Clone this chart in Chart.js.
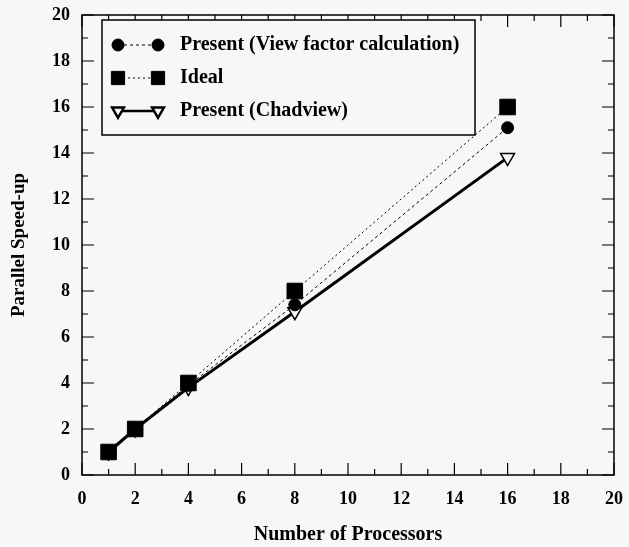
<!DOCTYPE html>
<html>
<head>
<meta charset="utf-8">
<script src="https://cdn.jsdelivr.net/npm/chart.js@4.4.1/dist/chart.umd.min.js"></script>
<style>
  html, body { margin: 0; padding: 0; background: #f7f7f7; }
  #wrap { width: 629px; height: 547px; }
</style>
</head>
<body>
<div id="wrap"><canvas id="chart" width="629" height="547"></canvas></div>
<script>
// data
const processors = [1, 2, 4, 8, 16];
const viewFactor = [1, 2, 3.9, 7.4, 15.1];
const ideal = [1, 2, 4, 8, 16];
const chadview = [1, 2, 3.8, 7.1, 13.8];
const xTicks = [0, 2, 4, 6, 8, 10, 12, 14, 16, 18, 20];
const yTicks = [0, 2, 4, 6, 8, 10, 12, 14, 16, 18, 20];

const serif = '"Liberation Serif", "DejaVu Serif", serif';
const bg = '#f7f7f7';

function pts(ys) {
    return processors.map((p, i) => ({ x: p, y: ys[i] }));
}

// frame with inward ticks, like the old plotting package
const framePlugin = {
    id: 'frame',
    afterDraw(chart) {
        const { ctx, chartArea: a, scales } = chart;
        ctx.save();
        ctx.strokeStyle = '#000';
        ctx.lineWidth = 1.5;
        ctx.strokeRect(a.left, a.top, a.right - a.left, a.bottom - a.top);
        ctx.lineWidth = 1.2;
        ctx.beginPath();
        for (let v = 0; v <= 20; v += 1) {
            const len = v % 2 === 0 ? 12 : 6;
            const x = scales.x.getPixelForValue(v);
            ctx.moveTo(x, a.bottom); ctx.lineTo(x, a.bottom - len);
            ctx.moveTo(x, a.top); ctx.lineTo(x, a.top + len);
            const y = scales.y.getPixelForValue(v);
            ctx.moveTo(a.left, y); ctx.lineTo(a.left + len, y);
            ctx.moveTo(a.right, y); ctx.lineTo(a.right - len, y);
        }
        ctx.stroke();
        ctx.restore();
    }
};

// boxed legend inside the plot, top left
const boxLegend = {
    id: 'boxLegend',
    afterDraw(chart) {
        const { ctx, chartArea: a } = chart;
        const bx = a.left + 20, by = a.top + 5, bw = 373, bh = 115;
        ctx.save();
        ctx.fillStyle = bg;
        ctx.fillRect(bx, by, bw, bh);
        ctx.strokeStyle = '#000';
        ctx.lineWidth = 1.5;
        ctx.strokeRect(bx, by, bw, bh);
        chart.data.datasets.forEach((ds, i) => {
            const y = by + 25 + i * 33;
            const x0 = bx + 16, x1 = bx + 56;
            ctx.setLineDash(ds.borderDash || []);
            ctx.lineWidth = Math.min(ds.borderWidth, 2.5);
            ctx.strokeStyle = '#000';
            ctx.beginPath();
            ctx.moveTo(x0, y); ctx.lineTo(x1, y);
            ctx.stroke();
            ctx.setLineDash([]);
            [x0, x1].forEach(x => {
                ctx.fillStyle = ds.pointBackgroundColor;
                ctx.strokeStyle = '#000';
                Chart.helpers.drawPoint(ctx, {
                    pointStyle: ds.pointStyle,
                    radius: ds.pointStyle === 'circle' ? ds.pointRadius : ds.pointRadius * 0.85,
                    rotation: ds.rotation || 0,
                    borderWidth: ds.pointBorderWidth || 1
                }, x, y);
            });
            ctx.fillStyle = '#000';
            ctx.font = 'bold 20px ' + serif;
            ctx.textBaseline = 'middle';
            ctx.fillText(ds.label, bx + 78, y);
        });
        ctx.restore();
    }
};

const chart = document.querySelector('#chart');
new Chart(chart, {
    type: 'line',
    data: {
        datasets: [
            {
                label: 'Present (View factor calculation)',
                data: pts(viewFactor),
                borderColor: '#000',
                borderWidth: 1,
                borderDash: [3, 3],
                pointStyle: 'circle',
                pointRadius: 6,
                pointBackgroundColor: '#000',
                pointBorderColor: '#000'
            },
            {
                label: 'Ideal',
                data: pts(ideal),
                borderColor: '#000',
                borderWidth: 1,
                borderDash: [2, 3],
                pointStyle: 'rect',
                pointRadius: 11,
                pointBackgroundColor: '#000',
                pointBorderColor: '#000'
            },
            {
                label: 'Present (Chadview)',
                data: pts(chadview),
                borderColor: '#000',
                borderWidth: 3,
                pointStyle: 'triangle',
                rotation: 180,
                pointRadius: 8,
                pointBorderWidth: 1.5,
                pointBackgroundColor: bg,
                pointBorderColor: '#000'
            }
        ]
    },
    options: {
        responsive: false,
        animation: false,
        layout: { padding: { left: 0, right: 12, top: 15, bottom: 0 } },
        plugins: {
            legend: { display: false },
            tooltip: { enabled: false }
        },
        scales: {
            x: {
                type: 'linear',
                min: 0, max: 20,
                afterBuildTicks: s => { s.ticks = xTicks.map(v => ({ value: v })); },
                afterFit: s => { s.height = 72; },
                grid: { display: false },
                border: { display: false },
                ticks: { color: '#000', padding: 6, font: { family: serif, size: 18, weight: 'bold' } },
                title: {
                    display: true,
                    text: 'Number of Processors',
                    color: '#000',
                    font: { family: serif, size: 20, weight: 'bold' },
                    padding: { top: 0, bottom: 0 }
                }
            },
            y: {
                min: 0, max: 20,
                afterBuildTicks: s => { s.ticks = yTicks.map(v => ({ value: v })); },
                afterFit: s => { s.width = 82; },
                grid: { display: false },
                border: { display: false },
                ticks: { color: '#000', padding: 4, font: { family: serif, size: 18, weight: 'bold' } },
                title: {
                    display: true,
                    text: 'Parallel Speed-up',
                    color: '#000',
                    font: { family: serif, size: 19, weight: 'bold' },
                    padding: { top: 8, bottom: 0 }
                }
            }
        }
    },
    plugins: [framePlugin, boxLegend]
});
</script>
</body>
</html>
